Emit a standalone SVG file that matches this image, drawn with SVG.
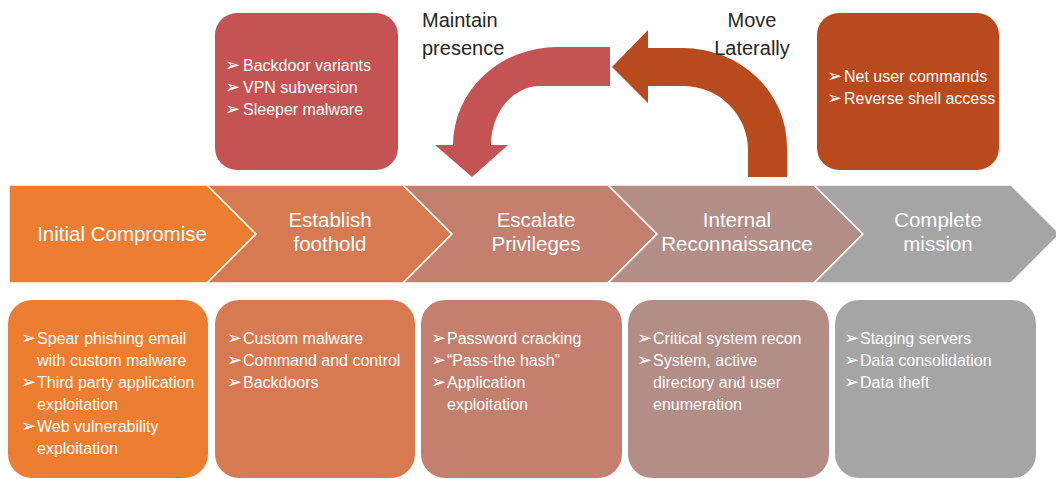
<svg xmlns="http://www.w3.org/2000/svg" width="1056" height="479" viewBox="0 0 1056 479">
<style>
.chev{stroke:#ffffff;stroke-width:1.5}
.ct{font-family:"Liberation Sans",Arial,sans-serif;font-size:20.5px;fill:#ffffff;text-anchor:middle}
.bt{font-family:"Liberation Sans",Arial,sans-serif;font-size:16px;fill:#ffffff}
.b{font-family:"DejaVu Sans",sans-serif;font-size:18px}
.lbl{font-family:"Liberation Sans",Arial,sans-serif;font-size:20px;fill:#262626}
</style>
<rect width="1056" height="479" fill="#ffffff"/>
<g id="connectors">
<path id="move-laterally-arrow" d="M612,67 L648,30 L648,48 L683,48 A104 99 0 0 1 787 147 L787,177 L748,177 L748,150 A65 64 0 0 0 683 86 L648,86 L648,103 Z" fill="#B84A1E"/>
<path id="maintain-presence-arrow" d="M610,47 L557,47 A104 98 0 0 0 453 145 L435,145 L472,177 L508,145 L491,145 A49 59 0 0 1 540 86 L610,86 Z" fill="#C55353"/>
</g>
<g id="label-maintain">
<text class="lbl" x="422" y="27">Maintain</text>
<text class="lbl" x="422" y="55">presence</text>
</g>
<g id="label-move">
<text class="lbl" x="752" y="27" text-anchor="middle">Move</text>
<text class="lbl" x="752" y="55" text-anchor="middle">Laterally</text>
</g>
<g id="box-maintain">
<rect x="215" y="13" width="183" height="157" rx="22" fill="#C55353"/>
<text class="bt" y="71"><tspan class="b" x="225">➢</tspan><tspan x="243">Backdoor variants</tspan></text>
<text class="bt" y="93"><tspan class="b" x="225">➢</tspan><tspan x="243">VPN subversion</tspan></text>
<text class="bt" y="115"><tspan class="b" x="225">➢</tspan><tspan x="243">Sleeper malware</tspan></text>
</g>
<g id="box-move">
<rect x="817" y="13" width="182" height="157" rx="22" fill="#B84A1E"/>
<text class="bt" y="82"><tspan class="b" x="827">➢</tspan><tspan x="844">Net user commands</tspan></text>
<text class="bt" y="104"><tspan class="b" x="827">➢</tspan><tspan x="844">Reverse shell access</tspan></text>
</g>
<g id="stage-initial">
<path class="chev" d="M9,185 H207 L256,234 L207,283 H9 Z" fill="#ED7D31"/>
<text class="ct" x="122" y="241">Initial Compromise</text>
</g>
<g id="stage-foothold">
<path class="chev" d="M207,185 H403 L452,234 L403,283 H207 L256,234 Z" fill="#D77A52"/>
<text class="ct" x="330" y="227">Establish</text>
<text class="ct" x="330" y="251">foothold</text>
</g>
<g id="stage-escalate">
<path class="chev" d="M403,185 H608 L657,234 L608,283 H403 L452,234 Z" fill="#C47F6E"/>
<text class="ct" x="536" y="227">Escalate</text>
<text class="ct" x="536" y="251">Privileges</text>
</g>
<g id="stage-recon">
<path class="chev" d="M608,185 H814 L863,234 L814,283 H608 L657,234 Z" fill="#B38E87"/>
<text class="ct" x="737" y="227">Internal</text>
<text class="ct" x="737" y="251">Reconnaissance</text>
</g>
<g id="stage-complete">
<path class="chev" d="M814,185 H1011 L1060,234 L1011,283 H814 L863,234 Z" fill="#A5A5A5"/>
<text class="ct" x="938" y="227">Complete</text>
<text class="ct" x="938" y="251">mission</text>
</g>
<g id="detail-initial">
<rect x="8" y="300" width="200" height="178" rx="24" fill="#ED7D31"/>
<text class="bt" y="344"><tspan class="b" x="21">➢</tspan><tspan x="37">Spear phishing email</tspan></text>
<text class="bt" x="37" y="366">with custom malware</text>
<text class="bt" y="388"><tspan class="b" x="21">➢</tspan><tspan x="37">Third party application</tspan></text>
<text class="bt" x="37" y="410">exploitation</text>
<text class="bt" y="432"><tspan class="b" x="21">➢</tspan><tspan x="37">Web vulnerability</tspan></text>
<text class="bt" x="37" y="454">exploitation</text>
</g>
<g id="detail-foothold">
<rect x="215" y="300" width="200" height="178" rx="24" fill="#D77A52"/>
<text class="bt" y="344"><tspan class="b" x="227">➢</tspan><tspan x="243">Custom malware</tspan></text>
<text class="bt" y="366"><tspan class="b" x="227">➢</tspan><tspan x="243">Command and control</tspan></text>
<text class="bt" y="388"><tspan class="b" x="227">➢</tspan><tspan x="243">Backdoors</tspan></text>
</g>
<g id="detail-escalate">
<rect x="421" y="300" width="201" height="178" rx="24" fill="#C47F6E"/>
<text class="bt" y="344"><tspan class="b" x="431">➢</tspan><tspan x="447">Password cracking</tspan></text>
<text class="bt" y="366"><tspan class="b" x="431">➢</tspan><tspan x="447">“Pass-the hash”</tspan></text>
<text class="bt" y="388"><tspan class="b" x="431">➢</tspan><tspan x="447">Application</tspan></text>
<text class="bt" x="447" y="410">exploitation</text>
</g>
<g id="detail-recon">
<rect x="628" y="300" width="201" height="178" rx="24" fill="#B38E87"/>
<text class="bt" y="344"><tspan class="b" x="637">➢</tspan><tspan x="653">Critical system recon</tspan></text>
<text class="bt" y="366"><tspan class="b" x="637">➢</tspan><tspan x="653">System, active</tspan></text>
<text class="bt" x="653" y="388">directory and user</text>
<text class="bt" x="653" y="410">enumeration</text>
</g>
<g id="detail-complete">
<rect x="835" y="300" width="201" height="178" rx="24" fill="#A5A5A5"/>
<text class="bt" y="344"><tspan class="b" x="844">➢</tspan><tspan x="860">Staging servers</tspan></text>
<text class="bt" y="366"><tspan class="b" x="844">➢</tspan><tspan x="860">Data consolidation</tspan></text>
<text class="bt" y="388"><tspan class="b" x="844">➢</tspan><tspan x="860">Data theft</tspan></text>
</g>
</svg>
